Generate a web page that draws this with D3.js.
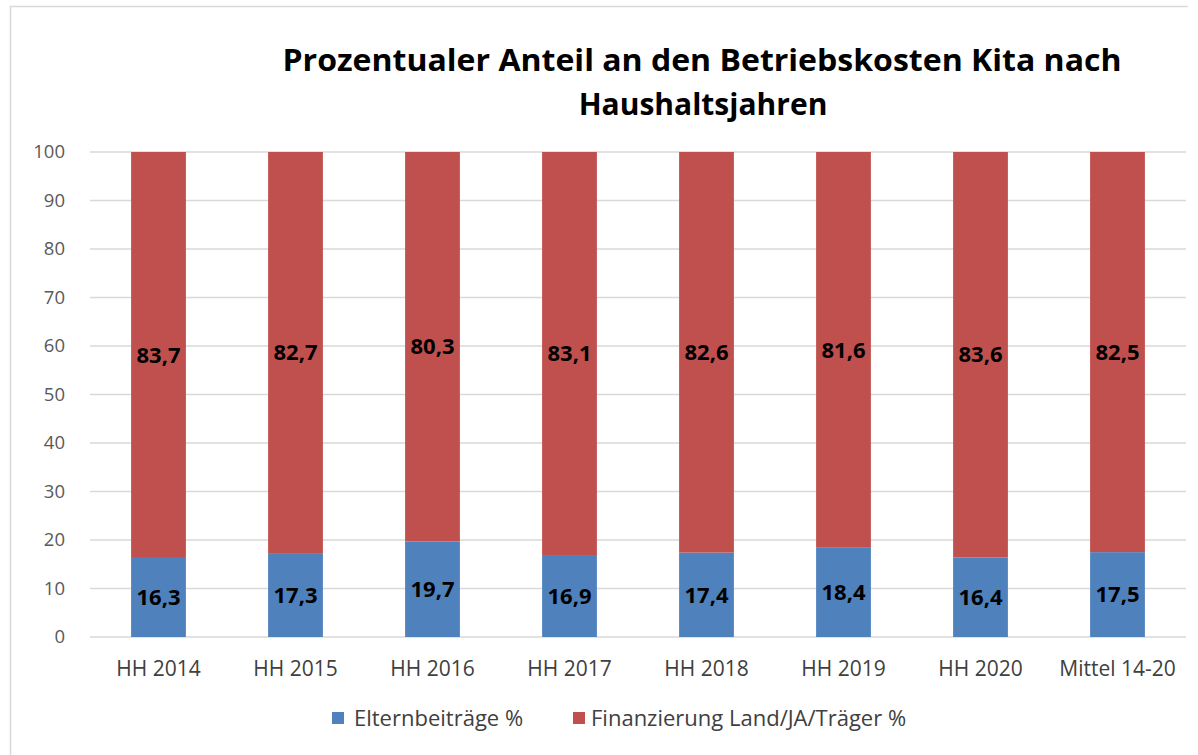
<!DOCTYPE html>
<html>
<head>
<meta charset="utf-8">
<script src="https://cdn.jsdelivr.net/npm/d3@7"></script>
<style>
  body { margin: 0; background: #fff; }
</style>
</head>
<body>
<svg width="1198" height="755"></svg>
<script>
var categories = ["HH 2014", "HH 2015", "HH 2016", "HH 2017", "HH 2018", "HH 2019", "HH 2020", "Mittel 14-20"];
var eltern = [16.3, 17.3, 19.7, 16.9, 17.4, 18.4, 16.4, 17.5];
var finanz = [83.7, 82.7, 80.3, 83.1, 82.6, 81.6, 83.6, 82.5];
var seriesNames = ["Elternbeiträge %", "Finanzierung Land/JA/Träger %"];
var colors = ["#4F81BD", "#C0504D"];
var yTicks = [0, 10, 20, 30, 40, 50, 60, 70, 80, 90, 100];

var svg = d3.select("svg");
var font = "'Open Sans', Lato, sans-serif";

// outer frame (top and left edges visible)
svg.append("line").attr("x1", 10).attr("x2", 1188).attr("y1", 6.5).attr("y2", 6.5)
  .attr("stroke", "#d9d9d9").attr("stroke-width", 1.5);
svg.append("line").attr("x1", 10.5).attr("x2", 10.5).attr("y1", 6).attr("y2", 755)
  .attr("stroke", "#d9d9d9").attr("stroke-width", 1.5);

var x = d3.scaleBand().domain(categories).range([90, 1186]).paddingInner(0.6).paddingOuter(0.3);
var y = d3.scaleLinear().domain([0, 100]).range([637, 152]);

// gridlines
svg.append("g").selectAll("line").data(yTicks).enter().append("line")
  .attr("x1", 90).attr("x2", 1186)
  .attr("y1", function(d) { return y(d); })
  .attr("y2", function(d) { return y(d); })
  .attr("stroke", "#d9d9d9").attr("stroke-width", 1.5);

// y axis
var yAxis = svg.append("g").attr("transform", "translate(90,0)")
  .call(d3.axisLeft(y).tickValues(yTicks).tickSize(0).tickPadding(25));
yAxis.select(".domain").remove();
yAxis.selectAll("text").style("font-family", font).style("font-size", "18.5px").attr("fill", "#595959");

// x axis
var xAxis = svg.append("g").attr("transform", "translate(0,637)")
  .call(d3.axisBottom(x).tickSize(0).tickPadding(24));
xAxis.select(".domain").remove();
xAxis.selectAll("text").style("font-family", font).style("font-size", "21px").attr("fill", "#404040");

// stacked bars
var rows = categories.map(function(c, i) { return { cat: c, a: eltern[i], b: finanz[i] }; });
var stack = d3.stack().keys(["a", "b"])(rows);

var groups = svg.append("g").selectAll("g").data(stack).enter().append("g")
  .attr("fill", function(d, i) { return colors[i]; });

groups.selectAll("rect").data(function(d) { return d; }).enter().append("rect")
  .attr("x", function(d) { return x(d.data.cat); })
  .attr("width", x.bandwidth())
  .attr("y", function(d) { return y(d[1]); })
  .attr("height", function(d) { return y(d[0]) - y(d[1]); });

groups.selectAll("text").data(function(d) { return d; }).enter().append("text")
  .attr("x", function(d) { return x(d.data.cat) + x.bandwidth() / 2; })
  .attr("y", function(d) { return y((d[0] + d[1]) / 2); })
  .attr("dy", "0.35em")
  .attr("text-anchor", "middle")
  .attr("fill", "#000")
  .style("font-family", font).style("font-size", "22px").style("font-weight", "bold")
  .text(function(d) { return (d[1] - d[0]).toFixed(1).replace(".", ","); });

// title
var title = svg.append("text").attr("text-anchor", "middle")
  .style("font-family", font).style("font-size", "30px").style("font-weight", "bold").attr("fill", "#000");
title.append("tspan").attr("x", 702).attr("y", 71).attr("textLength", 839).attr("lengthAdjust", "spacingAndGlyphs")
  .text("Prozentualer Anteil an den Betriebskosten Kita nach");
title.append("tspan").attr("x", 703).attr("y", 115).text("Haushaltsjahren");

// legend
var legendX = [332, 573];
var legend = svg.append("g").selectAll("g").data(seriesNames).enter().append("g")
  .attr("transform", function(d, i) { return "translate(" + legendX[i] + ",718)"; });
legend.append("rect").attr("x", 0).attr("y", -6).attr("width", 12).attr("height", 12)
  .attr("fill", function(d, i) { return colors[i]; });
legend.append("text").attr("x", function(d, i) { return i === 0 ? 22 : 18; }).attr("dy", "0.35em")
  .style("font-family", font).style("font-size", "22px").attr("fill", "#404040")
  .text(function(d) { return d; });
</script>
</body>
</html>
